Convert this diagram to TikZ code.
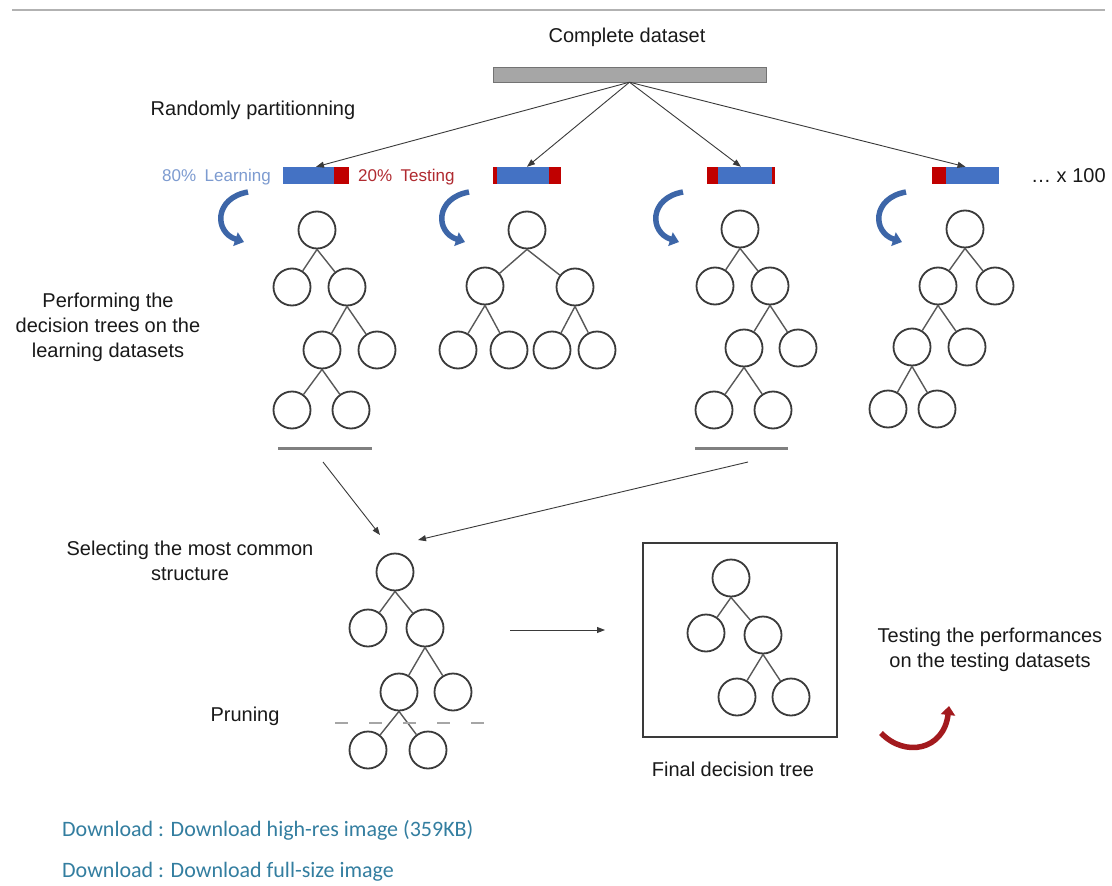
\documentclass[tikz,border=0pt]{standalone}
\usepackage{fontspec}
\setmainfont{Liberation Sans}
\newfontfamily\dlfont{Carlito}
\usetikzlibrary{arrows.meta}
\definecolor{barblue}{HTML}{4472C4}
\definecolor{barred}{HTML}{C00000}
\definecolor{curvblue}{HTML}{3D66A8}
\definecolor{curvred}{HTML}{A31A1E}
\definecolor{lightblue}{HTML}{7D9BD0}
\definecolor{testred}{HTML}{B02A30}
\definecolor{dlcol}{HTML}{337EA0}
\definecolor{dgray}{HTML}{3A3A3A}
\begin{document}
\begin{tikzpicture}[x=1pt,y=-1pt,
  nd/.style={circle, draw=dgray, line width=1.8pt, minimum size=37pt, inner sep=0pt},
  edge/.style={draw=black!65, line width=1.4pt},
  txt/.style={font=\fontsize{20}{25}\selectfont, text=black!90, inner sep=0pt},
  small/.style={font=\fontsize{17}{20}\selectfont, inner sep=0pt, anchor=west},
  arr/.style={draw=dgray, line width=0.9pt, -{Triangle[length=8pt,width=6pt]}},
  curv/.style={draw=curvblue, line width=5.5pt, -{Triangle[length=9pt,width=14pt]}},
  curvr/.style={draw=curvred, line width=5.5pt, -{Triangle[length=9pt,width=14pt]}},
  baseline/.style={draw=black!50, line width=3pt},
  dl/.style={font=\dlfont\fontsize{22}{26}\selectfont, text=dlcol, inner sep=0pt, anchor=west}
]
\useasboundingbox (0,0) rectangle (1112,886);
\fill[white] (0,0) rectangle (1112,886);
% top rule
\draw[black!30, line width=1.5pt] (12,10) -- (1105,10);

% complete dataset
\node[txt] (cdlabel) at (627,37) {Complete dataset};
\node[draw=black!55, fill=black!35, minimum width=273pt, minimum height=15pt, inner sep=0pt] (cd) at (629.5,74.5) {};
\node[txt] (rand) at (253,110) {Randomly partitionning};

% partition bars
\node[fill=barblue, minimum width=66pt, minimum height=17pt, inner sep=0pt] (p1) at (316,175.5) {};
\fill[barred] (334,167) rectangle (349,184);
\node[fill=barblue, minimum width=68pt, minimum height=17pt, inner sep=0pt] (p2) at (527,175.5) {};
\fill[barred] (493,167) rectangle (497,184);
\fill[barred] (549,167) rectangle (561,184);
\node[fill=barblue, minimum width=68pt, minimum height=17pt, inner sep=0pt] (p3) at (741,175.5) {};
\fill[barred] (707,167) rectangle (718,184);
\fill[barred] (772,167) rectangle (775,184);
\node[fill=barblue, minimum width=67pt, minimum height=17pt, inner sep=0pt] (p4) at (965.5,175.5) {};
\fill[barred] (932,167) rectangle (946,184);

\draw[arr] (cd.south) -- (p1.north);
\draw[arr] (cd.south) -- (p2.north);
\draw[arr] (cd.south) -- (p3.north);
\draw[arr] (cd.south) -- (p4.north);

\node[small, text=lightblue] (learn) at (162,177) {80\%\hspace{0.5em}Learning};
\node[small, text=testred] (test) at (358,177) {20\%\hspace{0.5em}Testing};
\node[txt, anchor=west] (x100) at (1031,176) {\dots\ x 100};

% curved blue arrows
\foreach \dx in {0,221,435,658}{
  \draw[curv] (248+\dx,192) .. controls (214+\dx,198) and (214+\dx,232) .. (244+\dx,242);
}

% left label
\node[txt, align=center] (perf) at (108,327) {Performing the\\decision trees on the\\learning datasets};

% tree 1
\node[nd] (t1r) at (317,230) {};
\node[nd] (t1a) at (292,287) {};
\node[nd] (t1b) at (347,287) {};
\node[nd] (t1c) at (322,350) {};
\node[nd] (t1d) at (377,350) {};
\node[nd] (t1e) at (292,410) {};
\node[nd] (t1f) at (351,410) {};
\draw[edge] (t1r.south) -- (t1a) (t1r.south) -- (t1b)
  (t1b.south) -- (t1c) (t1b.south) -- (t1d)
  (t1c.south) -- (t1e) (t1c.south) -- (t1f);

% tree 2
\node[nd] (t2r) at (527,230) {};
\node[nd] (t2a) at (485,286) {};
\node[nd] (t2b) at (575,287) {};
\node[nd] (t2c) at (458,350) {};
\node[nd] (t2d) at (509,350) {};
\node[nd] (t2e) at (552,350) {};
\node[nd] (t2f) at (597,350) {};
\draw[edge] (t2r.south) -- (t2a) (t2r.south) -- (t2b)
  (t2a.south) -- (t2c) (t2a.south) -- (t2d)
  (t2b.south) -- (t2e) (t2b.south) -- (t2f);

% tree 3
\node[nd] (t3r) at (740,229) {};
\node[nd] (t3a) at (715,286) {};
\node[nd] (t3b) at (770,286) {};
\node[nd] (t3c) at (744,348) {};
\node[nd] (t3d) at (798,348) {};
\node[nd] (t3e) at (714,410) {};
\node[nd] (t3f) at (773,410) {};
\draw[edge] (t3r.south) -- (t3a) (t3r.south) -- (t3b)
  (t3b.south) -- (t3c) (t3b.south) -- (t3d)
  (t3c.south) -- (t3e) (t3c.south) -- (t3f);

% tree 4
\node[nd] (t4r) at (965,229) {};
\node[nd] (t4a) at (938,286) {};
\node[nd] (t4b) at (995,286) {};
\node[nd] (t4c) at (912,347) {};
\node[nd] (t4d) at (967,347) {};
\node[nd] (t4e) at (888,409) {};
\node[nd] (t4f) at (937,409) {};
\draw[edge] (t4r.south) -- (t4a) (t4r.south) -- (t4b)
  (t4a.south) -- (t4c) (t4a.south) -- (t4d)
  (t4c.south) -- (t4e) (t4c.south) -- (t4f);

% selection bars
\draw[baseline] (278,448) -- (372,448);
\draw[baseline] (695,448) -- (788,448);
\coordinate (s1) at (323,462);
\coordinate (s2) at (748,462);
\coordinate (e1) at (380,535);
\coordinate (e2) at (418,540);
\draw[arr] (s1) -- (e1);
\draw[arr] (s2) -- (e2);

% selecting label
\node[txt, align=center] (sel) at (190,561) {Selecting the most common\\structure};
\node[txt] (prun) at (245,716) {Pruning};

% bottom tree
\node[nd] (t5r) at (395,572) {};
\node[nd] (t5a) at (368,628) {};
\node[nd] (t5b) at (425,628) {};
\node[nd] (t5c) at (399,692) {};
\node[nd] (t5d) at (453,692) {};
\node[nd] (t5e) at (368,750) {};
\node[nd] (t5f) at (428,750) {};
\draw[edge] (t5r.south) -- (t5a) (t5r.south) -- (t5b)
  (t5b.south) -- (t5c) (t5b.south) -- (t5d)
  (t5c.south) -- (t5e) (t5c.south) -- (t5f);
\draw[black!35, line width=2pt, dash pattern=on 13pt off 21pt] (335,723) -- (488,723);

% horizontal arrow
\coordinate (h1) at (510,630);
\coordinate (h2) at (605,630);
\draw[arr] (h1) -- (h2);

% final tree
\node[draw=dgray, line width=1.8pt, minimum width=194pt, minimum height=194pt, inner sep=0pt] (fbox) at (740,640) {};
\node[nd] (t6r) at (731,578) {};
\node[nd] (t6a) at (706,633) {};
\node[nd] (t6b) at (763,635) {};
\node[nd] (t6c) at (737,697) {};
\node[nd] (t6d) at (791,697) {};
\draw[edge] (t6r.south) -- (t6a) (t6r.south) -- (t6b)
  (t6b.south) -- (t6c) (t6b.south) -- (t6d);
\node[txt] (final) at (733,769) {Final decision tree};

% testing label and red arrow
\node[txt, align=center] (testperf) at (990,650) {Testing the performances\\on the testing datasets};
\draw[curvr] (881,733) .. controls (905,758) and (944,750) .. (949,706);

% download links
\node[dl] (dl1) at (62,830) {Download : Download high-res image (359KB)};
\node[dl] (dl2) at (62,872) {Download : Download full-size image};
\end{tikzpicture}
\end{document}
